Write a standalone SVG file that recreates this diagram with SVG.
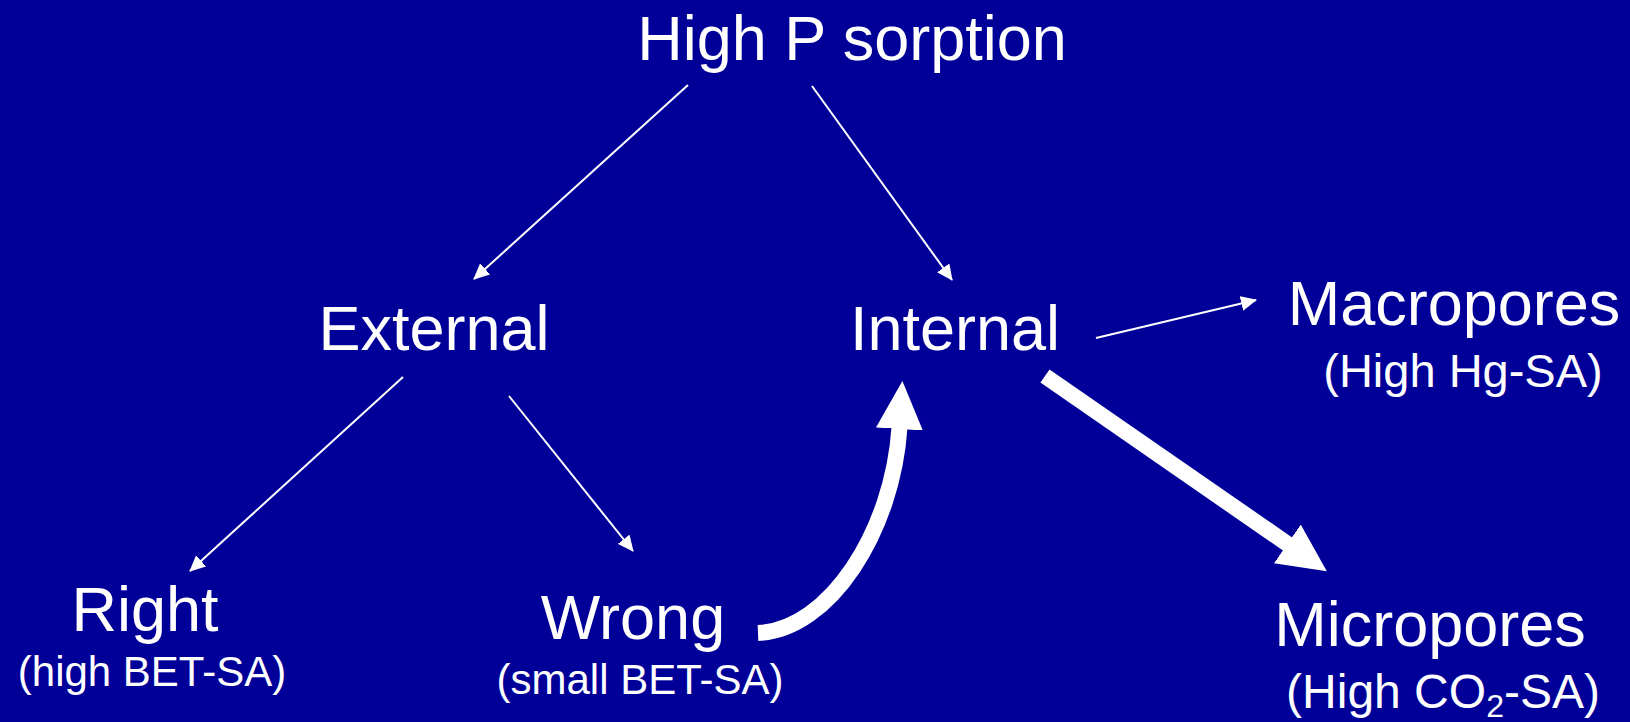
<svg xmlns="http://www.w3.org/2000/svg" width="1630" height="722" viewBox="0 0 1630 722">
<style>
text{font-family:"Liberation Sans",Arial,sans-serif;fill:#fff;text-anchor:middle}
.t{font-size:63px}
.thin{stroke:#fff;stroke-width:2;fill:none;marker-end:url(#ah)}
.thick{stroke:#fff;stroke-width:16;fill:none;marker-end:url(#ahb)}
</style>
<defs>
<marker id="ah" markerUnits="userSpaceOnUse" markerWidth="16" markerHeight="15" refX="15" refY="7.5" orient="auto" viewBox="0 0 16 15">
<path d="M0,0 L16,7.5 L0,15 z" fill="#fff"/>
</marker>
<marker id="ahb" markerUnits="userSpaceOnUse" markerWidth="48" markerHeight="47" refX="2" refY="23.5" orient="auto" viewBox="0 0 48 47">
<path d="M0,0 L48,23.5 L0,47 z" fill="#fff"/>
</marker>
</defs>
<rect width="1630" height="722" fill="#000099"/>
<g id="connectors">
<line class="thin" x1="688" y1="85" x2="474" y2="279"/>
<line class="thin" x1="812" y1="86" x2="952" y2="280"/>
<line class="thin" x1="1096" y1="338" x2="1256" y2="300"/>
<line class="thin" x1="403" y1="377" x2="190" y2="571"/>
<line class="thin" x1="509" y1="396" x2="633" y2="551"/>
<line class="thick" x1="1045" y1="376" x2="1289" y2="545"/>
<path class="thick" d="M758,633 C830,630 893,530 899.5,427"/>
</g>
<g id="high-p-sorption"><text class="t" x="852" y="60">High P sorption</text></g>
<g id="external"><text class="t" x="434" y="350">External</text></g>
<g id="internal"><text class="t" x="955" y="350">Internal</text></g>
<g id="macropores"><text class="t" x="1454" y="325">Macropores</text><text x="1463" y="387" font-size="47">(High Hg-SA)</text></g>
<g id="right"><text class="t" x="145" y="631">Right</text><text x="152" y="686" font-size="42">(high BET-SA)</text></g>
<g id="wrong"><text class="t" x="633" y="639">Wrong</text><text x="640" y="694" font-size="42">(small BET-SA)</text></g>
<g id="micropores"><text class="t" x="1430" y="646">Micropores</text><text x="1443" y="708" font-size="48">(High CO<tspan font-size="32" dy="9">2</tspan><tspan dy="-9">-SA)</tspan></text></g>
</svg>
